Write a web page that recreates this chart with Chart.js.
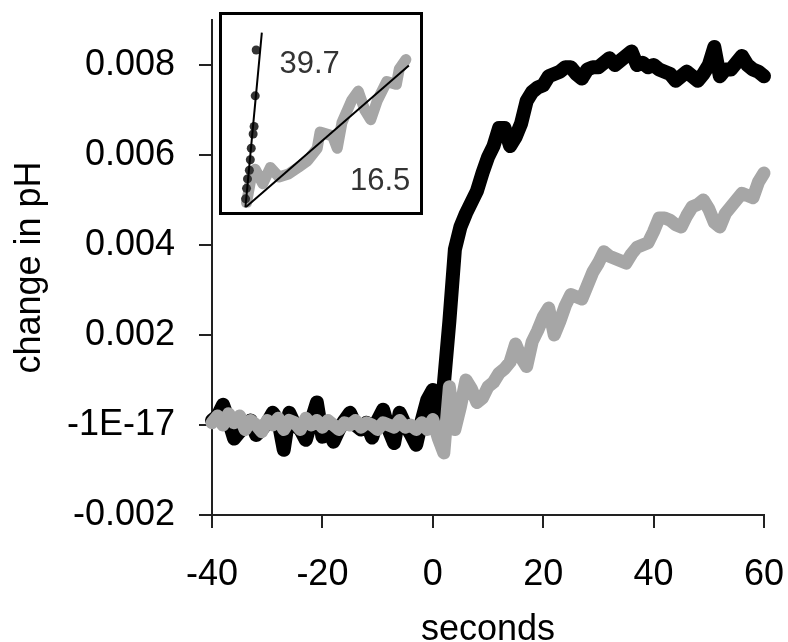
<!DOCTYPE html>
<html lang="en">
  <head>
    <meta charset="UTF-8" />
    <title>Change in pH</title>
    <style>
      body { margin: 0; background: #fff; }
      .wrap { position: relative; width: 788px; height: 642px; }
      .inset {
        position: absolute; left: 219px; top: 12px;
        width: 204px; height: 203px;
        border: 3px solid #000; box-sizing: border-box; background: #fff;
      }
      .inset canvas { display: block; }
    </style>
  </head>
  <body>
    <div class="wrap">
      <canvas id="phChart" width="788" height="642"></canvas>
      <div class="inset"><canvas id="insetChart" width="198" height="197"></canvas></div>
    </div>

    <script src="https://cdn.jsdelivr.net/npm/chart.js@4.4.0/dist/chart.umd.min.js"></script>
    <script>
      // time axis, seconds
      var seconds = [
        -40, -39, -38, -37, -36, -35, -34, -33, -32, -31,
        -30, -29, -28, -27, -26, -25, -24, -23, -22, -21,
        -20, -19, -18, -17, -16, -15, -14, -13, -12, -11,
        -10, -9, -8, -7, -6, -5, -4, -3, -2, -1,
        0, 1, 2, 3, 4, 5, 6, 7, 8, 9,
        10, 11, 12, 13, 14, 15, 16, 17, 18, 19,
        20, 21, 22, 23, 24, 25, 26, 27, 28, 29,
        30, 31, 32, 33, 34, 35, 36, 37, 38, 39,
        40, 41, 42, 43, 44, 45, 46, 47, 48, 49,
        50, 51, 52, 53, 54, 55, 56, 57, 58, 59, 60
      ];

      // change in pH, in units of 0.001
      var blackTrace = [
        0.1, 0.2, 0.45, 0.1, -0.3, -0.15, -0.05, 0.1, -0.22, -0.1,
        0.05, 0.27, 0.1, -0.55, 0.27, 0, -0.1, -0.33, 0.1, 0.5,
        -0.26, 0, -0.37, -0.1, 0.1, 0.27, 0, -0.1, 0.05, -0.28,
        0.1, 0.34, -0.1, -0.4, 0.27, 0, -0.2, -0.44, 0.1, 0.56,
        0.78, 0.15, 0.9, 2.3, 3.9, 4.4, 4.7, 4.95, 5.2, 5.6,
        5.95, 6.2, 6.6, 6.6, 6.2, 6.4, 6.7, 7.2, 7.4, 7.5,
        7.55, 7.75, 7.8, 7.85, 7.95, 7.95, 7.8, 7.7, 7.9, 7.95,
        7.95, 8.05, 8.15, 8.0, 8.1, 8.2, 8.3, 8.0, 8.05, 7.95,
        8.0, 7.9, 7.85, 7.8, 7.65, 7.75, 7.85, 7.75, 7.65, 7.8,
        8.0, 8.4, 7.75, 7.9, 7.9, 8.05, 8.2, 8.0, 7.9, 7.85, 7.75
      ];
      var greyTrace = [
        0.05, 0.2, 0, 0.25, 0.05, 0.2, -0.1, 0.1, 0, -0.15,
        0.1, 0, 0.15, -0.1, 0.1, 0.05, -0.1, 0.15, 0, 0.1,
        -0.05, 0.1, 0, -0.1, 0.05, 0, 0.1, -0.05, 0.05, 0,
        -0.1, 0.05, 0, -0.05, 0.1, -0.05, 0, -0.1, 0.05, -0.1,
        0.12, -0.3, -0.62, 0.85, -0.1, 0.4, 1.0, 0.8, 0.5, 0.6,
        0.85, 0.95, 1.15, 1.25, 1.4, 1.8, 1.5, 1.3, 1.85, 2.1,
        2.4, 2.6, 2.0, 2.3, 2.65, 2.9, 2.85, 2.8, 3.1, 3.4,
        3.6, 3.85, 3.75, 3.7, 3.65, 3.6, 3.8, 3.95, 4.0, 4.05,
        4.3, 4.6, 4.6, 4.55, 4.45, 4.4, 4.65, 4.85, 4.9, 5.0,
        4.8, 4.5, 4.4, 4.7, 4.85, 5.0, 5.15, 5.1, 5.05, 5.4, 5.6
      ];

      var xTicks = [-40, -20, 0, 20, 40, 60];
      var yTicks = [-0.002, 0, 0.002, 0.004, 0.006, 0.008];
      var yTickLabels = ["-0.002", "-1E-17", "0.002", "0.004", "0.006", "0.008"];

      // inset (arbitrary units, 0-100 on both axes)
      var insetBlackX = [15.7, 15.2, 14.6, 14.1, 13.1, 12.6, 12.1, 11.1, 10.6, 10.1];
      var insetBlackY = [83.8, 59.4, 43.1, 39.1, 31.5, 25.4, 19.8, 15.2, 10.2, 4.6];
      var insetGreyX = [10.6, 13.1, 15.2, 19.2, 23.2, 27.8, 32.8, 37.9, 42.9, 48.0, 49.5,
        56.1, 58.6, 61.1, 66.2, 69.7, 73.2, 76.3, 79.8, 84.8, 89.9, 91.4, 94.9];
      var insetGreyY = [2.5, 16.2, 20.3, 12.7, 21.3, 16.2, 17.8, 21.3, 24.9, 31.5, 40.1,
        38.1, 31.5, 45.2, 56.9, 61.9, 51.8, 46.7, 56.9, 67.0, 65.5, 73.6, 78.7];
      var blackFitX = [10, 18.7], blackFitY = [0, 93];
      var greyFitX = [10, 96.5], greyFitY = [0, 75.5];
      var slopeLabels = ["39.7", "16.5"];
      var slopeLabelX = [44, 81.3];
      var slopeLabelY = [76, 13.7];

      Chart.defaults.font.family = '"Liberation Sans", Arial, sans-serif';
      Chart.defaults.color = "#000";
      Chart.defaults.animation = false;

      function toPoints(xs, ys, k) {
        return xs.map(function (x, i) {
          return { x: x, y: ys[i] * k };
        });
      }

      var axisFont = { size: 36 };

      new Chart(document.getElementById("phChart"), {
        type: "line",
        data: {
          datasets: [
            {
              label: "grey",
              data: toPoints(seconds, greyTrace, 0.001),
              borderColor: "#a6a6a6",
              borderWidth: 13,
              borderJoinStyle: "round",
              borderCapStyle: "round",
              pointRadius: 0,
              clip: false,
            },
            {
              label: "black",
              data: toPoints(seconds, blackTrace, 0.001),
              borderColor: "#000",
              borderWidth: 14,
              borderJoinStyle: "round",
              borderCapStyle: "round",
              pointRadius: 0,
              clip: false,
            },
          ],
        },
        options: {
          responsive: false,
          layout: { padding: { top: 20, right: 24, bottom: 0, left: 0 } },
          plugins: { legend: { display: false }, tooltip: { enabled: false } },
          scales: {
            x: {
              type: "linear",
              min: -40,
              max: 60,
              afterBuildTicks: function (scale) {
                scale.ticks = xTicks.map(function (v) { return { value: v }; });
              },
              afterFit: function (scale) {
                scale.height = 127;
                scale.paddingLeft = 0;
                scale.paddingRight = 0;
              },
              grid: { drawOnChartArea: false, tickLength: 13, color: "#222", lineWidth: 2 },
              border: { color: "#222", width: 2 },
              ticks: { font: axisFont, padding: 25, maxRotation: 0 },
              title: { display: true, text: "seconds", font: axisFont, padding: { top: 0, bottom: -10 } },
            },
            y: {
              min: -0.002,
              max: 0.009,
              afterBuildTicks: function (scale) {
                scale.ticks = yTicks.map(function (v) { return { value: v }; });
              },
              afterFit: function (scale) {
                scale.width = 212;
                scale.paddingTop = 0;
                scale.paddingBottom = 0;
              },
              grid: { drawOnChartArea: false, tickLength: 13, color: "#222", lineWidth: 2 },
              border: { color: "#222", width: 2 },
              ticks: {
                font: axisFont,
                padding: 24,
                autoSkip: false,
                callback: function (value, index) {
                  return yTickLabels[index];
                },
              },
              title: { display: true, text: "change in pH", font: axisFont, padding: { top: 8, bottom: 0 } },
            },
          },
        },
      });

      // slope numbers written next to the fitted lines
      var slopeLabelPlugin = {
        id: "slopeLabels",
        afterDatasetsDraw: function (chart) {
          var ctx = chart.ctx;
          ctx.save();
          ctx.font = '31px "Liberation Sans", Arial, sans-serif';
          ctx.fillStyle = "#333";
          ctx.textAlign = "center";
          ctx.textBaseline = "middle";
          slopeLabels.forEach(function (txt, i) {
            ctx.fillText(
              txt,
              chart.scales.x.getPixelForValue(slopeLabelX[i]),
              chart.scales.y.getPixelForValue(slopeLabelY[i])
            );
          });
          ctx.restore();
        },
      };

      new Chart(document.getElementById("insetChart"), {
        type: "scatter",
        data: {
          datasets: [
            {
              data: toPoints(blackFitX, blackFitY, 1),
              showLine: true,
              borderColor: "#000",
              borderWidth: 2,
              pointRadius: 0,
            },
            {
              data: toPoints(greyFitX, greyFitY, 1),
              showLine: true,
              borderColor: "#000",
              borderWidth: 2,
              pointRadius: 0,
            },
            {
              data: toPoints(insetBlackX, insetBlackY, 1),
              pointRadius: 4.5,
              pointBackgroundColor: "#333",
              pointBorderWidth: 0,
            },
            {
              data: toPoints(insetGreyX, insetGreyY, 1),
              showLine: true,
              borderColor: "#a6a6a6",
              borderWidth: 11,
              borderJoinStyle: "round",
              borderCapStyle: "round",
              pointRadius: 0,
            },
          ],
        },
        options: {
          responsive: false,
          layout: { padding: 0 },
          plugins: { legend: { display: false }, tooltip: { enabled: false } },
          scales: {
            x: { type: "linear", min: 0, max: 100, display: false },
            y: { type: "linear", min: 0, max: 100, display: false },
          },
        },
        plugins: [slopeLabelPlugin],
      });
    </script>
  </body>
</html>
